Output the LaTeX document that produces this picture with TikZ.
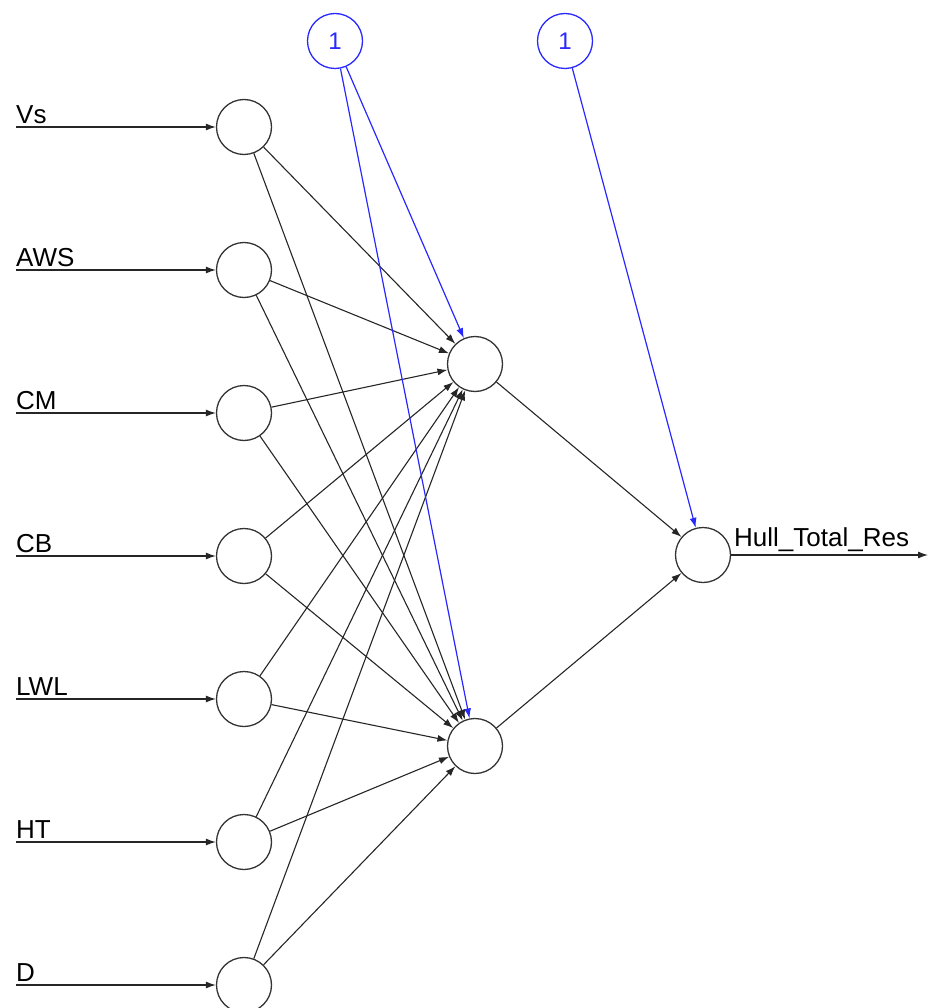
\documentclass[tikz,border=0pt]{standalone}
\usepackage{fontspec}
\setmainfont{Liberation Sans}
\usetikzlibrary{arrows.meta}
\definecolor{biasblue}{RGB}{40,40,255}
\tikzset{
  neuron/.style={circle, draw=black!80, line width=1.3pt, minimum size=55pt, inner sep=0pt},
  biasnode/.style={circle, draw=biasblue, line width=1.3pt, minimum size=55pt, inner sep=0pt,
    text=biasblue, font=\fontsize{24}{28}\selectfont},
  wire/.style={draw=black!85, line width=1.1pt, -{Latex[length=10pt,width=7pt]}},
  biaswire/.style={draw=biasblue, line width=1.2pt, -{Latex[length=10pt,width=7pt]}},
  inlabel/.style={anchor=south west, inner sep=0pt, font=\fontsize{26}{30}\selectfont}
}
\begin{document}
\begin{tikzpicture}[x=1pt,y=-1pt]
\useasboundingbox (0,0) rectangle (928,1008);

% input layer
\foreach \name/\lab/\y in {i1/Vs/127, i2/AWS/270, i3/CM/413, i4/CB/556, i5/LWL/699, i6/HT/842, i7/D/985} {
  \node[neuron] (\name) at (244,\y) {};
  \coordinate (\name s) at (16,\y);
  \node[inlabel] (\name l) at (16,\y-3) {\lab};
  \draw[wire] (\name s) -- (\name);
}

% hidden layer
\node[neuron] (h1) at (475,364) {};
\node[neuron] (h2) at (475,746) {};

% output
\node[neuron] (o) at (703,555) {};
\coordinate (oe) at (928,555);
\node[inlabel] (ol) at (734,552) {Hull\_Total\_Res};
\draw[wire] (o) -- (oe);

% bias nodes
\node[biasnode] (b1) at (335,41) {1};
\node[biasnode] (b2) at (565,41) {1};

% input to hidden
\foreach \i in {1,...,7} {
  \draw[wire] (i\i) -- (h1);
  \draw[wire] (i\i) -- (h2);
}

% hidden to output
\draw[wire] (h1) -- (o);
\draw[wire] (h2) -- (o);

% bias connections
\draw[biaswire] (b1) -- (h1);
\draw[biaswire] (b1) -- (h2);
\draw[biaswire] (b2) -- (o);
\end{tikzpicture}
\end{document}
